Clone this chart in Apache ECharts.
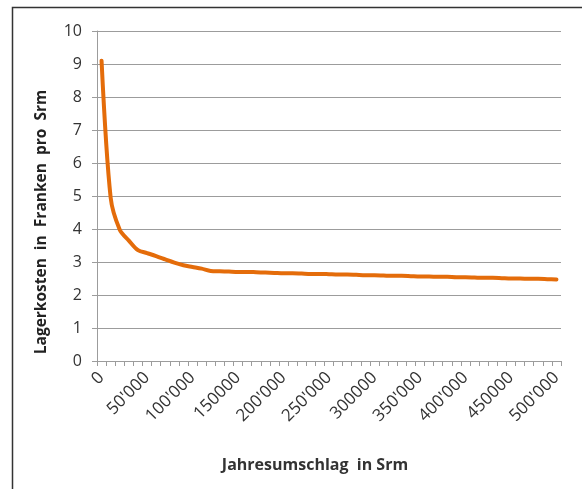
<!DOCTYPE html>
<html>
<head>
<meta charset="utf-8">
<script src="https://cdn.jsdelivr.net/npm/echarts@6/dist/echarts.min.js"></script>
<style>
  html, body { margin: 0; padding: 0; background: #fff; }
  #main { width: 582px; height: 489px; }
</style>
</head>
<body>
<div id="main"></div>
<script>
// Kategorien: Jahresumschlag in Schritten von 10'000 Srm
const categories = [
  '0', '10000', '20000', '30000', '40000',
  "50'000", '60000', '70000', '80000', '90000',
  "100'000", '110000', '120000', '130000', '140000',
  '150000', '160000', '170000', '180000', '190000',
  "200'000", '210000', '220000', '230000', '240000',
  "250'000", '260000', '270000', '280000', '290000',
  '300000', '310000', '320000', '330000', '340000',
  "350'000", '360000', '370000', '380000', '390000',
  "400'000", '410000', '420000', '430000', '440000',
  '450000', '460000', '470000', '480000', '490000',
  "500'000"
]

// Lagerkosten in Franken pro Srm
const lagerkosten = [
  9.1, 4.95, 3.98, 3.65, 3.36, 3.27, 3.18, 3.08, 2.98, 2.9,
  2.85, 2.8, 2.73, 2.72, 2.71, 2.7, 2.7, 2.69, 2.68, 2.67,
  2.66, 2.66, 2.65, 2.64, 2.64, 2.63, 2.62, 2.62, 2.61, 2.6,
  2.6, 2.59, 2.58, 2.58, 2.57, 2.56, 2.56, 2.55, 2.55, 2.54,
  2.54, 2.53, 2.52, 2.52, 2.51, 2.5, 2.5, 2.49, 2.49, 2.48,
  2.47
]

const font = "'Open Sans', 'Noto Sans', sans-serif"
const gridColor = '#9c9c9c'

const myChart = echarts.init(document.getElementById('main'))

const option = {
  animation: false,
  graphic: [
    // Rahmen links und oben
    {
      type: 'polyline',
      shape: { points: [[12.5, 489], [12.5, 7.5], [582, 7.5]] },
      style: { stroke: '#333', lineWidth: 1.5, fill: null }
    },
    // Achsentitel (wie in Excel über dem ganzen Diagramm zentriert)
    {
      type: 'text',
      x: 42,
      y: 222,
      rotation: Math.PI / 2,
      style: {
        text: 'Lagerkosten  in  Franken  pro  Srm',
        fontFamily: font,
        fontSize: 15.5,
        fontWeight: 'bold',
        fill: '#222',
        align: 'center',
        verticalAlign: 'middle'
      }
    },
    {
      type: 'text',
      x: 315,
      y: 465,
      style: {
        text: 'Jahresumschlag  in Srm',
        fontFamily: font,
        fontSize: 16,
        fontWeight: 'bold',
        fill: '#333',
        align: 'center',
        verticalAlign: 'middle'
      }
    }
  ],
  grid: {
    left: 97,
    right: 21,
    top: 31,
    bottom: 128
  },
  xAxis: {
    type: 'category',
    data: categories,
    boundaryGap: true,
    axisLine: { lineStyle: { color: gridColor, width: 1 } },
    axisTick: { show: true, interval: 0, length: 5, lineStyle: { color: gridColor } },
    axisLabel: {
      interval: 4,
      rotate: 45,
      margin: 14,
      fontFamily: font,
      fontSize: 17,
      color: '#333'
    },
    splitLine: { show: false }
  },
  yAxis: {
    type: 'value',
    min: 0,
    max: 10,
    interval: 1,
    axisLine: { show: true, lineStyle: { color: gridColor, width: 1 } },
    axisTick: { show: true, length: 5, lineStyle: { color: gridColor } },
    axisLabel: { margin: 15, fontFamily: font, fontSize: 16, color: '#333' },
    splitLine: { lineStyle: { color: gridColor, width: 1 } }
  },
  series: [
    {
      type: 'line',
      data: lagerkosten,
      smooth: 0.3,
      showSymbol: false,
      lineStyle: { color: '#e46c0a', width: 4, cap: 'round', join: 'round' }
    }
  ]
}

myChart.setOption(option)
window.addEventListener('resize', () => {
  myChart.resize()
})
</script>
</body>
</html>
